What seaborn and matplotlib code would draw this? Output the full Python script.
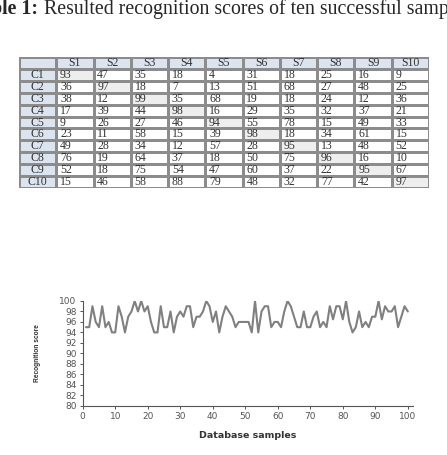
import numpy as np
import matplotlib
matplotlib.use("Agg")
import matplotlib.pyplot as plt
import seaborn as sns
from matplotlib.colors import ListedColormap

# table data
sample_names = ["S1", "S2", "S3", "S4", "S5", "S6", "S7", "S8", "S9", "S10"]
class_names = ["C1", "C2", "C3", "C4", "C5", "C6", "C7", "C8", "C9", "C10"]
table_scores = [
    [93, 47, 35, 18, 4, 31, 18, 25, 16, 9],
    [36, 97, 18, 7, 13, 51, 68, 27, 48, 25],
    [38, 12, 99, 35, 68, 19, 18, 24, 12, 36],
    [17, 39, 44, 98, 16, 29, 35, 32, 37, 21],
    [9, 26, 27, 46, 94, 55, 78, 15, 49, 33],
    [23, 11, 58, 15, 39, 98, 18, 34, 61, 15],
    [49, 28, 34, 12, 57, 28, 95, 13, 48, 52],
    [76, 19, 64, 37, 18, 50, 75, 96, 16, 10],
    [52, 18, 75, 54, 47, 60, 37, 22, 95, 67],
    [15, 46, 58, 88, 79, 48, 32, 77, 42, 97],
]

# line chart data
sample_ids = list(range(1, 101))
recognition = [
    95, 95, 99, 96, 95, 99, 95, 96, 94, 94,
    99, 97, 94, 97, 98, 100, 98, 100, 98, 99,
    96, 94, 94, 99, 95, 95, 98, 94, 97, 98,
    97, 99, 99, 95, 97, 97, 98, 100, 99, 96,
    98, 94, 97, 99, 98, 97, 95, 96, 96, 96,
    96, 94, 100, 94, 98, 99, 99, 95, 96, 96,
    95, 98, 100, 99, 97, 95, 95, 98, 95, 95,
    97, 98, 95, 96, 95, 99, 96.5, 99, 99, 96.5,
    100, 96, 94, 95, 98, 95, 96, 95, 97, 97,
    100, 96.5, 99, 98, 98, 99, 95, 97, 99, 98,
]

sns.set_style("white")
plt.rcParams["font.family"] = ["DejaVu Sans"]

W, H = 447, 455
fig = plt.figure(figsize=(W / 100, H / 100), dpi=100)

# caption (cut off on both sides like the source)
fig.text(38 / W, 1 - 14 / H, "Table 1:", ha="right", va="baseline",
         fontsize=14.3, fontweight="bold", family="Liberation Serif")
fig.text(44 / W, 1 - 14 / H, "Resulted recognition scores of ten successful samples",
         ha="left", va="baseline", fontsize=14.3, family="Liberation Serif")

# table drawn as a heatmap
n = len(class_names) + 1
codes = np.zeros((n, n))
codes[0, :] = 2
codes[:, 0] = 2
for i in range(1, n):
    codes[i, i] = 1
labels = np.empty((n, n), dtype=object)
labels[0, 0] = ""
for j, s in enumerate(sample_names):
    labels[0, j + 1] = s
for i, c in enumerate(class_names):
    labels[i + 1, 0] = c
    for j in range(len(sample_names)):
        labels[i + 1, j + 1] = str(table_scores[i][j])

ax_t = fig.add_axes([19 / W, 1 - 188 / H, 410 / W, 131 / H])
cmap = ListedColormap(["#ffffff", "#eeeeee", "#dbe4ef"])
sns.heatmap(codes, annot=labels, fmt="", cmap=cmap, vmin=0, vmax=2, cbar=False,
            linewidths=0.8, linecolor="#8c8c8c", xticklabels=False, yticklabels=False,
            annot_kws={"fontsize": 8.5, "family": "Liberation Serif", "color": "#333333"},
            ax=ax_t)
for t in ax_t.texts:
    x, y = t.get_position()
    if x > 1 and y > 1:
        t.set_x(x - 0.5 + 0.1)
        t.set_ha("left")

# line chart
ax = fig.add_axes([82.7 / W, 1 - 405.7 / H, 330 / W, 104.7 / H])
sns.lineplot(x=sample_ids, y=recognition, color="#808080", linewidth=1.5, ax=ax)
ax.set_xlim(0, 101.5)
ax.set_ylim(80, 100)
ax.set_xticks(range(0, 101, 10))
ax.set_yticks(range(80, 101, 2))
for side in ["top", "right"]:
    ax.spines[side].set_visible(False)
for side in ["left", "bottom"]:
    ax.spines[side].set_color("#555555")
    ax.spines[side].set_linewidth(0.8)
ax.tick_params(axis="both", direction="out", length=2.5, width=0.7, color="#555555",
               labelsize=6.5, labelcolor="#555555", pad=2, left=True, bottom=True)
ax.set_xlabel("Database samples", fontsize=6.8, fontweight="bold", color="#333333", labelpad=7)
ax.set_ylabel("Recognition score", fontsize=4.8, fontweight="bold", color="#333333",
              family="Liberation Sans", labelpad=13)

fig.savefig("out.png", dpi=100)
